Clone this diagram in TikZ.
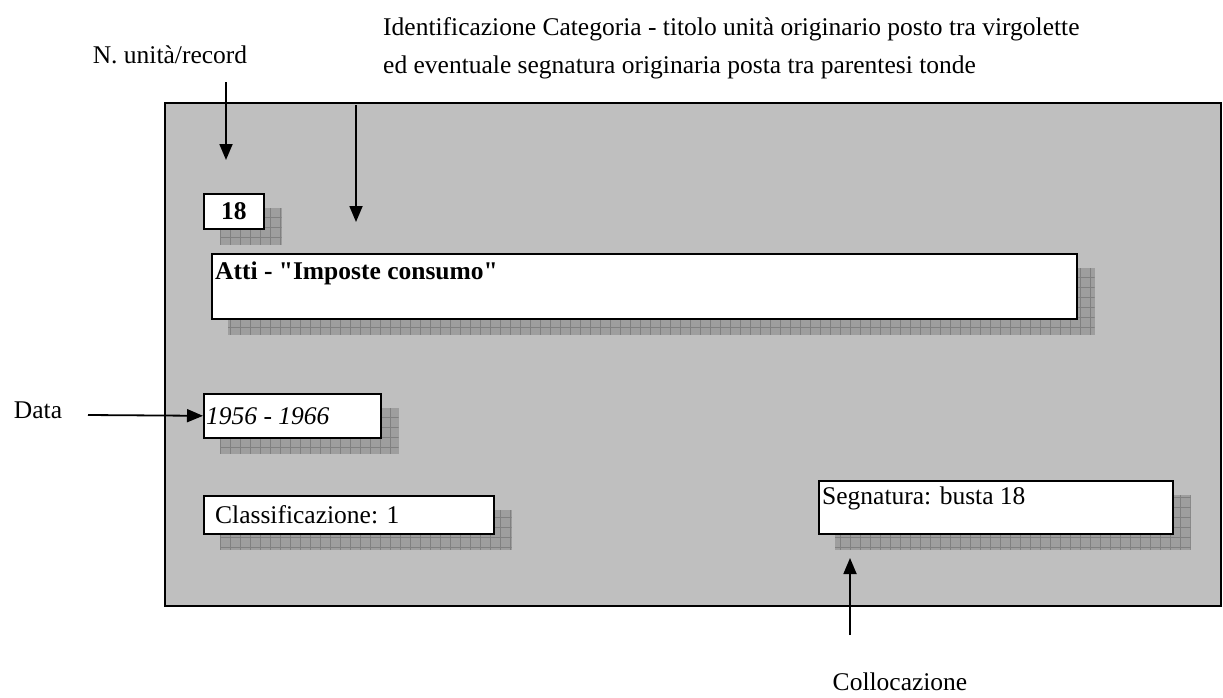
\documentclass[tikz,border=0pt]{standalone}
\usepackage{fontspec}
\setmainfont{Liberation Serif}[Ligatures=TeXOff]
\usetikzlibrary{arrows.meta, positioning, backgrounds, patterns.meta}

\begin{document}
\begin{tikzpicture}[x=1pt, y=-1pt,
    every node/.style={font=\fontsize{25.5}{30}\selectfont, inner sep=0pt},
    card/.style={draw, fill=white, line width=1.6pt, anchor=north west},
    cardtext/.style={anchor=west},
    shade/.style={fill=black!38,
        postaction={pattern={Lines[angle=0,distance=10pt,line width=.6pt]}, pattern color=black!50},
        postaction={pattern={Lines[angle=90,distance=10pt,line width=.6pt]}, pattern color=black!50}},
    pointer/.style={-{Triangle[length=16pt,width=13pt]}, line width=1.8pt}]

    \useasboundingbox (0,0) rectangle (1223,697);

    % scheda
    \begin{scope}[on background layer]
        \draw[fill=black!25, line width=1.5pt] (165,103) rectangle (1221,606);
    \end{scope}

    % campi
    \node[card, minimum width=60pt, minimum height=35pt] (num) at (203,193) {\textbf{18}};
    \node[card, minimum width=865pt, minimum height=65pt] (title) at (211,253) {};
    \node[anchor=base west] (titletext) at ([shift={(4,26)}]title.north west) {\textbf{Atti - "Imposte consumo"}};
    \node[card, minimum width=177pt, minimum height=44pt] (date) at (203,393) {};
    \node[cardtext] (datetext) at ([xshift=3pt]date.west) {\textit{1956 - 1966}};
    \node[card, minimum width=290pt, minimum height=38pt] (class) at (203,495) {};
    \node[cardtext] (classtext) at ([xshift=12pt]class.west) {Classificazione: 1};
    \node[card, minimum width=354pt, minimum height=53pt] (segn) at (818,480) {};
    \node[anchor=base west] (segntext) at ([shift={(4,24)}]segn.north west) {Segnatura: busta 18};

    % ombre
    \begin{scope}[on background layer]
        \foreach \b in {num, title, date, class, segn}
            \path[shade] ([shift={(17,15)}]\b.south west) rectangle ([shift={(17,15)}]\b.north east);
    \end{scope}

    % didascalie
    \node (nrec) at (170,55) {N. unità/record};
    \node[anchor=north west, align=left, font=\fontsize{25.5}{38}\selectfont] (ident) at (383,17)
        {Identificazione Categoria - titolo unità originario posto tra virgolette\\
         ed eventuale segnatura originaria posta tra parentesi tonde};
    \node (data) at (38,410) {Data};
    \node (coll) at (900,682) {Collocazione};

    % frecce
    \coordinate (nrecstart) at (226,82);
    \coordinate (nrectip) at (226,160);
    \coordinate (identstart) at (356,105);
    \coordinate (identtip) at (356,222);
    \coordinate (datastart) at (88,415);
    \coordinate (collstart) at (850,635);
    \coordinate (colltip) at (850,558);

    \draw[pointer] (nrecstart) -- (nrectip);
    \draw[pointer] (identstart) -- (identtip);
    \draw[pointer] (datastart) -- (date.west);
    \draw[pointer] (collstart) -- (colltip);

\end{tikzpicture}
\end{document}
